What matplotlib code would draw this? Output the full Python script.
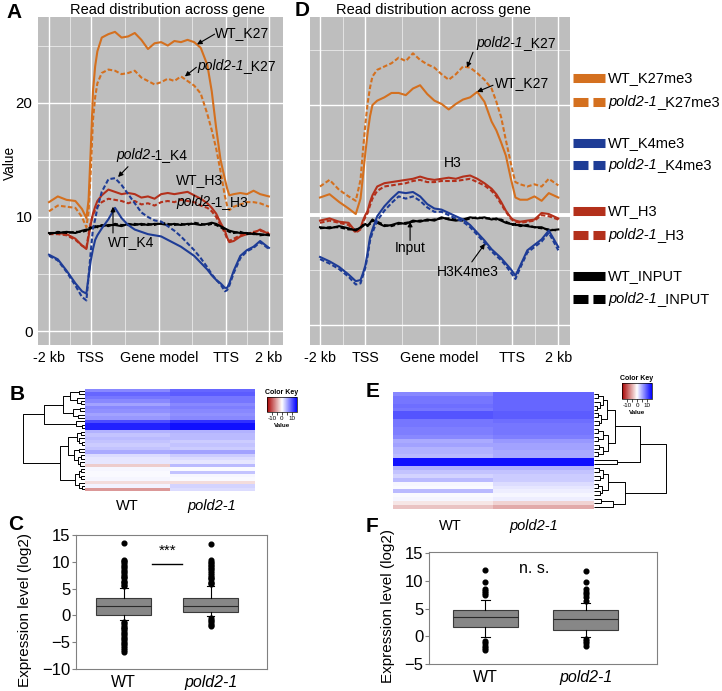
import numpy as np
import matplotlib
matplotlib.use("Agg")
import matplotlib.pyplot as plt
from matplotlib.lines import Line2D
from matplotlib.colors import LinearSegmentedColormap, Normalize
from matplotlib.colorbar import ColorbarBase
from matplotlib.offsetbox import TextArea, HPacker, AnnotationBbox

plt.rcParams['font.family'] = ['Liberation Sans', 'DejaVu Sans']

W, H = 722, 691

# ---------------- profile data (A, D) ----------------
pos = [0, 4, 8, 12, 15, 17, 18, 19, 20, 21, 22, 24, 27, 30, 33, 36, 39, 42, 45, 48,
       51, 54, 57, 60, 63, 66, 69, 72, 74, 76, 78, 80, 81, 82, 84, 87, 90, 93, 96, 100]
xtick_pos = [0, 19, 50, 80.5, 100]
xtick_lab = ['-2 kb', 'TSS', 'Gene model', 'TTS', '2 kb']

A_wt_k27 = [11.3, 11.8, 11.5, 11.4, 10.7, 9.9, 11.5, 16.0, 21.0, 23.2,
            24.5, 25.7, 26.0, 26.2, 25.7, 25.8, 26.1, 25.5, 24.7, 25.2,
            25.3, 25.0, 25.4, 25.3, 25.5, 25.3, 24.8, 23.3, 21.0, 17.8,
            15.0, 13.3, 12.5, 11.9, 12.0, 12.1, 12.0, 12.3, 12.0, 11.8]
A_mu_k27 = [10.5, 11.0, 10.9, 10.8, 10.0, 9.1, 10.5, 14.0, 18.5, 20.5,
            21.7, 22.6, 22.9, 22.8, 22.5, 22.6, 22.8, 22.2, 21.9, 21.6,
            21.8, 22.1, 21.9, 22.3, 21.9, 21.5, 20.8, 19.0, 17.6, 16.0,
            14.0, 11.8, 11.0, 10.6, 10.9, 11.1, 11.3, 11.3, 11.2, 10.9]
A_wt_h3 = [8.6, 8.6, 8.5, 8.1, 7.5, 7.2, 8.3, 9.4, 10.3, 10.9,
           11.4, 11.9, 12.4, 12.2, 12.0, 12.1, 12.0, 11.7, 11.8, 11.6,
           12.0, 12.1, 12.0, 12.1, 12.2, 11.9, 11.6, 11.2, 10.8, 10.3,
           9.5, 8.8, 8.2, 7.8, 7.9, 8.3, 8.5, 8.6, 8.9, 8.5]
A_mu_h3 = [8.5, 8.5, 8.4, 8.0, 7.5, 7.3, 8.5, 9.5, 10.2, 10.6,
           10.9, 11.3, 11.6, 11.5, 11.4, 11.2, 11.4, 11.1, 11.2, 11.0,
           11.3, 11.4, 11.3, 11.5, 11.4, 11.3, 11.0, 10.8, 10.5, 10.0,
           9.3, 8.6, 8.1, 7.9, 8.1, 8.4, 8.5, 8.7, 8.8, 8.6]
A_wt_k4 = [6.7, 6.3, 5.3, 4.2, 3.5, 3.3, 4.8, 6.2, 7.2, 8.0,
           8.4, 9.0, 9.8, 10.8, 9.9, 9.3, 8.9, 8.7, 8.5, 8.4,
           8.3, 8.0, 7.7, 7.4, 7.0, 6.6, 6.0, 5.4, 4.9, 4.5,
           4.2, 3.8, 3.8, 4.2, 5.3, 6.6, 7.1, 7.4, 7.9, 7.3]
A_mu_k4 = [6.6, 6.2, 5.2, 4.0, 3.0, 2.7, 4.8, 7.0, 9.0, 9.8,
           10.8, 12.2, 13.3, 13.4, 12.8, 12.0, 11.2, 10.4, 10.0, 9.7,
           9.6, 9.2, 8.8, 8.3, 7.7, 7.1, 6.4, 5.6, 5.0, 4.5,
           4.1, 3.5, 3.6, 4.0, 5.1, 6.4, 7.0, 7.3, 7.8, 7.2]
A_wt_in = [8.6, 8.6, 8.7, 8.6, 8.8, 8.9, 8.9, 9.0, 9.1, 9.1,
           9.2, 9.2, 9.3, 9.3, 9.2, 9.4, 9.3, 9.4, 9.3, 9.4,
           9.4, 9.3, 9.4, 9.3, 9.4, 9.4, 9.3, 9.4, 9.5, 9.4,
           9.2, 9.0, 8.9, 8.8, 8.7, 8.6, 8.6, 8.5, 8.5, 8.4]
A_mu_in = [8.5, 8.7, 8.6, 8.7, 8.7, 8.8, 9.0, 9.1, 9.0, 9.2,
           9.1, 9.3, 9.2, 9.4, 9.3, 9.3, 9.4, 9.3, 9.4, 9.3,
           9.5, 9.4, 9.3, 9.4, 9.3, 9.5, 9.4, 9.3, 9.4, 9.3,
           9.1, 8.9, 8.8, 8.7, 8.6, 8.7, 8.5, 8.6, 8.4, 8.5]

D_wt_k27 = [11.6, 11.9, 11.2, 10.6, 10.1, 11.5, 13.5, 15.6, 17.5, 19.0,
            20.0, 20.4, 20.7, 21.1, 21.1, 20.9, 21.5, 21.8, 21.0, 20.4,
            20.1, 19.6, 20.1, 20.5, 20.7, 21.2, 20.3, 18.5, 17.7, 16.6,
            15.4, 13.4, 12.5, 11.6, 11.4, 11.4, 11.7, 11.3, 12.0, 11.6]
D_mu_k27 = [12.6, 13.2, 12.3, 11.7, 11.3, 13.2, 15.8, 18.2, 20.2, 21.6,
            22.6, 23.2, 23.5, 23.8, 24.3, 24.0, 24.7, 24.1, 23.7, 23.4,
            22.8, 22.3, 22.8, 23.5, 23.4, 22.9, 22.3, 21.5, 20.3, 18.9,
            16.8, 14.8, 13.8, 13.0, 12.8, 12.6, 12.8, 12.6, 13.3, 12.7]
D_wt_h3 = [9.5, 9.7, 9.4, 9.3, 8.5, 8.8, 9.5, 10.0, 10.4, 11.2,
           11.8, 12.6, 12.9, 13.0, 13.1, 13.2, 13.3, 13.5, 13.3, 13.2,
           13.3, 13.4, 13.3, 13.5, 13.6, 13.3, 12.9, 12.4, 11.9, 11.2,
           10.4, 9.8, 9.6, 9.5, 9.4, 9.5, 9.6, 10.2, 10.1, 9.7]
D_mu_h3 = [9.3, 9.5, 9.3, 9.1, 8.4, 8.7, 9.3, 9.8, 10.2, 10.9,
           11.5, 12.2, 12.6, 12.7, 12.8, 12.9, 13.1, 13.2, 13.0, 13.0,
           13.1, 13.1, 13.1, 13.2, 13.3, 13.0, 12.7, 12.2, 11.7, 11.0,
           10.3, 9.7, 9.5, 9.4, 9.3, 9.4, 9.5, 10.0, 9.9, 9.6]
D_wt_k4 = [6.2, 5.8, 5.3, 4.6, 4.0, 4.1, 4.7, 5.4, 6.6, 8.0,
           8.7, 9.9, 10.8, 11.5, 12.1, 12.0, 12.1, 11.7, 11.0, 10.6,
           10.5, 10.2, 9.9, 9.6, 9.1, 8.4, 7.7, 6.9, 6.5, 6.1,
           5.6, 5.1, 4.8, 4.5, 5.4, 6.8, 7.3, 7.8, 8.6, 7.1]
D_mu_k4 = [6.0, 5.6, 5.1, 4.4, 3.7, 3.8, 4.5, 5.2, 6.3, 7.7,
           8.4, 9.5, 10.4, 11.1, 11.7, 11.5, 11.7, 11.3, 10.7, 10.3,
           10.3, 10.0, 9.7, 9.4, 8.9, 8.2, 7.5, 6.7, 6.3, 5.9,
           5.4, 4.8, 4.5, 4.2, 5.2, 6.6, 7.1, 7.6, 8.4, 6.8]
D_wt_in = [8.9, 8.8, 9.0, 8.8, 8.6, 8.9, 9.0, 9.2, 9.0, 9.3,
           9.6, 9.3, 9.0, 9.1, 9.3, 9.2, 9.5, 9.4, 9.6, 9.5,
           9.8, 9.6, 9.5, 9.6, 9.8, 9.7, 9.8, 9.6, 9.7, 9.5,
           9.3, 9.2, 9.2, 9.1, 9.1, 9.0, 8.9, 8.9, 8.6, 8.7]
D_mu_in = [8.8, 8.9, 8.9, 8.7, 8.7, 8.8, 9.1, 9.1, 9.1, 9.2,
           9.5, 9.4, 9.1, 9.0, 9.2, 9.3, 9.4, 9.5, 9.5, 9.6,
           9.7, 9.7, 9.6, 9.5, 9.7, 9.8, 9.7, 9.7, 9.6, 9.6,
           9.4, 9.2, 9.1, 9.2, 9.0, 9.1, 8.9, 8.8, 8.7, 8.6]

# ---------------- heatmap data (B, E) ----------------
B_wt = [7, 9, 8, 7, 5.5, 7, 6.5, 5.5, 6, 10.5, 13, 13, 4.5, 3.5, 4,
        3.5, 3, 3.5, 5, 2, 1.5, 1.5, -3, 0.5, 0.3, 0.3, 0.5, -2, 0.8, -6]
B_mu = [9, 9.5, 8, 8, 7, 7.5, 7, 6.5, 7, 12, 14, 14, 4.5, 4, 4,
        3, 3.5, 3, 5.5, 3, 2, 1.5, 4, 0.3, 3.5, 0.5, 0.3, -2, 2.5, 2]
E_wt = [7, 8, 8, 8.5, 8, 10, 10, 8, 8, 7.5, 7.5, 7, 5, 5.5, 4.5,
        4.5, 4, 14, 14, 4.5, 3.5, 2.5, 4, 0.5, 0.3, 4, 0.3, 0.5, -1.5, -3.5]
E_mu = [9, 9, 9, 9, 9, 9.5, 9.5, 8.5, 8, 8, 8, 7.5, 6, 5.5, 5.5,
        5, 5, 14, 14, 4.5, 3.5, 3, 3, 2, 1.5, 1, 0.5, 1, -2.5, -5]
# dendrograms: (height, left, right), leaves are row indices
B_tree = (10, (6.7, (3.5, (2.4, (1.0, 0, 1), (1.3, 2, (0.6, 3, 4))),
                          (1.9, (0.8, 5, 6), (1.1, 7, 8))),
                   (1.4, 9, (0.5, 10, 11))),
              (4.0, (2.7, (1.3, (0.7, 12, 13), (0.9, 14, (0.5, 15, 16))),
                          (1.8, (1.0, 17, 18), (1.1, (0.6, 19, 20), (0.8, 21, 22)))),
                    (1.6, (1.0, (0.6, 23, 24), (0.7, 25, 26)), (0.9, 27, (0.5, 28, 29)))))
E_tree = (10, (6.4, (2.9, (1.8, (1.3, (0.6, 0, 1), (0.8, 2, (0.4, 3, 4))),
                                (1.0, (0.5, 5, 6), (0.7, 7, 8))),
                          (1.9, (1.2, (0.6, 9, 10), (0.5, 11, 12)),
                                (1.3, (0.7, 13, 14), (0.6, 15, 16)))),
                   (3.2, 17, 18)),
              (4.3, (2.0, (1.3, (0.7, 19, 20), (0.9, 21, 22)),
                          (1.1, (0.6, 23, 24), (0.8, 25, 26))),
                    (2.7, (1.0, 27, 28), 29)))

# ---------------- boxplot data (C, F) ----------------
C_stats = [dict(med=1.7, q1=0.1, q3=3.2, whislo=-0.9, whishi=5.1,
                fliers=[5.4, 5.7, 6.0, 6.2, 6.5, 6.9, 7.2, 7.4, 7.8, 8.1, 8.3, 8.7, 9.0, 9.3,
                        9.6, 9.9, 10.2, 10.4, 13.6, -1.2, -1.5, -1.7, -2.1, -2.4, -2.6, -3.0,
                        -3.3, -3.5, -3.9, -4.2, -4.4, -4.8, -5.1, -5.4, -5.7, -6.1, -6.5, -6.8]),
           dict(med=1.7, q1=0.55, q3=3.3, whislo=-0.2, whishi=5.45,
                fliers=[5.8, 6.1, 6.3, 6.7, 7.0, 7.2, 7.6, 7.9, 8.2, 8.6, 8.8, 9.2, 9.4, 9.7,
                        10.0, 10.4, 13.3, -0.5, -0.8, -1.1, -1.4, -1.7, -2.0])]
F_stats = [dict(med=3.5, q1=1.6, q3=4.8, whislo=-0.2, whishi=6.5,
                fliers=[7.4, 7.8, 8.2, 8.6, 9.8, 12.0, -0.9, -1.3, -1.8, -2.1, -2.4]),
           dict(med=3.2, q1=1.2, q3=4.65, whislo=-0.1, whishi=6.0,
                fliers=[6.4, 7.1, 7.6, 8.0, 8.5, 9.8, 11.7, -0.5, -0.9, -1.3, -1.7])]
groups = ['WT', 'pold2-1']

C_K27, C_K4, C_H3, C_IN = '#D4701F', '#1E3C96', '#B3301B', '#000000'
DASH = (0, (2.2, 1.1))

fig = plt.figure(figsize=(W / 100, H / 100), dpi=100)


def px_axes(l, t, r, b):
    return fig.add_axes([l / W, 1 - b / H, (r - l) / W, (b - t) / H])


def rich(ax, x, y, parts, size, ha='left', coords='data'):
    boxes = [TextArea(s, textprops=dict(fontsize=size, style='italic' if it else 'normal'))
             for s, it in parts]
    pack = HPacker(children=boxes, align='baseline', pad=0, sep=0)
    al = {'left': 0, 'center': 0.5, 'right': 1}[ha]
    ab = AnnotationBbox(pack, (x, y), xycoords=coords, box_alignment=(al, 0.5),
                        frameon=False, pad=0, annotation_clip=False)
    ax.add_artist(ab)


def arrow(ax, x0, y0, x1, y1):
    ax.annotate('', xy=(x1, y1), xytext=(x0, y0),
                arrowprops=dict(arrowstyle='-|>', color='k', lw=0.8, mutation_scale=7,
                                shrinkA=0, shrinkB=0))


def profile(ax, series, xlim, ylim):
    ax.set_facecolor('#BEBEBE')
    ax.set_axisbelow(True)
    for y, col, dashed in series:
        ax.plot(pos, y, color=col, lw=1.5, ls=DASH if dashed else '-')
    ax.set_xlim(*xlim)
    ax.set_ylim(*ylim)
    ax.set_xticks(xtick_pos)
    ax.set_xticklabels(xtick_lab, fontsize=10.3)
    ax.set_xticks([9.5, 34.5, 65.25, 90.25], minor=True)
    ax.set_yticks([0, 10, 20])
    ax.set_yticks([5, 15, 25], minor=True)
    ax.grid(which='major', color='white', lw=1.0)
    ax.grid(which='minor', color='white', lw=0.5, alpha=0.8)
    for s in ax.spines.values():
        s.set_visible(False)
    ax.tick_params(which='both', length=0)
    ax.tick_params(axis='x', pad=4)
    ax.tick_params(axis='y', labelsize=10.8, pad=4)


# ---------------- A ----------------
axA = px_axes(38, 17, 283, 345)
profile(axA, [(A_wt_k27, C_K27, False), (A_mu_k27, C_K27, True),
              (A_wt_h3, C_H3, False), (A_mu_h3, C_H3, True),
              (A_wt_in, C_IN, False), (A_mu_in, C_IN, True),
              (A_wt_k4, C_K4, False), (A_mu_k4, C_K4, True)], (-5, 106.4), (-1.2, 27.5))
fig.text(10 / W, 1 - 163 / H, 'Value', rotation=90, fontsize=9.8, ha='center', va='center')
axA.text(75.5, 26.1, 'WT_K27', fontsize=10, va='center')
arrow(axA, 75.3, 26.0, 67.3, 25.1)
rich(axA, 67.3, 23.2, [('pold2-1', True), ('_K27', False)], 10)
arrow(axA, 67.0, 23.1, 61.8, 22.3)
rich(axA, 46.8, 15.4, [('pold2', True), ('-1_K4', False)], 10, ha='center')
arrow(axA, 35.9, 14.4, 31.4, 13.5)
axA.text(68.6, 13.2, 'WT_H3', fontsize=10, ha='center', va='center')
rich(axA, 58.0, 11.3, [('pold2', True), ('-1_H3', False)], 10)
axA.text(37.3, 7.8, 'WT_K4', fontsize=10, ha='center', va='center')
arrow(axA, 29.1, 8.6, 29.1, 10.9)

# ---------------- D ----------------
axD = px_axes(310, 17, 570, 345)
profile(axD, [(D_wt_k27, C_K27, False), (D_mu_k27, C_K27, True),
              (D_wt_h3, C_H3, False), (D_mu_h3, C_H3, True),
              (D_wt_in, C_IN, False), (D_mu_in, C_IN, True),
              (D_wt_k4, C_K4, False), (D_mu_k4, C_K4, True)], (-4.2, 104.9), (-1.8, 28))
axD.set_yticklabels([])
axD.axhline(10, color='white', lw=2.8, zorder=0.6)
rich(axD, 65.7, 25.6, [('pold2-1', True), ('_K27', False)], 10)
arrow(axD, 64.2, 24.8, 61.7, 23.4)
axD.text(73.4, 22.0, 'WT_K27', fontsize=10, va='center')
arrow(axD, 72.6, 21.8, 65.9, 21.2)
axD.text(55.8, 14.7, 'H3', fontsize=10, ha='center', va='center')
axD.text(37.8, 7.0, 'Input', fontsize=10, ha='center', va='center')
arrow(axD, 37.8, 7.7, 37.8, 9.4)
axD.text(62.1, 4.8, 'H3K4me3', fontsize=10, ha='center', va='center')
arrow(axD, 63.7, 5.75, 69.2, 7.4)

# legend for D
leg = [([('WT_K27me3', False)], C_K27, False), ([('pold2-1', True), ('_K27me3', False)], C_K27, True),
       ([('WT_K4me3', False)], C_K4, False), ([('pold2-1', True), ('_K4me3', False)], C_K4, True),
       ([('WT_H3', False)], C_H3, False), ([('pold2-1', True), ('_H3', False)], C_H3, True),
       ([('WT_INPUT', False)], C_IN, False), ([('pold2-1', True), ('_INPUT', False)], C_IN, True)]
leg_y = [78, 102, 143, 165, 211, 235, 276, 299]
for (parts, col, dashed), yy in zip(leg, leg_y):
    fig.add_artist(Line2D([573 / W, 605 / W], [1 - yy / H, 1 - yy / H], color=col, lw=6.5,
                          ls=(0, (1.66, 0.55)) if dashed else '-', solid_capstyle='butt',
                          dash_capstyle='butt'))
    rich(axD, 608 / W, 1 - yy / H, parts, 10.5, coords='figure fraction')

for title_x in (167, 433):
    fig.text(title_x / W, 1 - 10 / H, 'Read distribution across gene', fontsize=10.5,
             ha='center', va='center')

# ---------------- heatmaps ----------------
cmap = LinearSegmentedColormap.from_list('rwb', ['#A80000', '#FFFFFF', '#0000FF'])
norm = Normalize(-15, 15)


def draw_tree(ax, node):
    if isinstance(node, int):
        return node, 0.0
    h, left, right = node
    yl, hl = draw_tree(ax, left)
    yr, hr = draw_tree(ax, right)
    ax.plot([hl, h, h, hr], [yl, yl, yr, yr], color='k', lw=0.7, solid_capstyle='butt')
    return (yl + yr) / 2, h


def heatmap(hbox, dbox, kbox, wt, mu, tree, side, lab_x, pad):
    ax = px_axes(*hbox)
    ax.imshow(np.column_stack([wt, mu]), cmap=cmap, norm=norm, aspect='auto',
              interpolation='nearest')
    ax.set_yticks([])
    ax.set_xticks(lab_x)
    ax.set_xticklabels(groups, fontsize=10.5)
    ax.get_xticklabels()[1].set_style('italic')
    ax.tick_params(axis='x', length=0, pad=pad)
    for s in ax.spines.values():
        s.set_visible(False)
    axd = px_axes(*dbox)
    draw_tree(axd, tree)
    axd.set_ylim(len(wt) - 0.5, -0.5)
    axd.set_xlim((10.2, 0) if side == 'left' else (0, 10.2))
    axd.axis('off')
    cax = px_axes(*kbox)
    cb = ColorbarBase(cax, cmap=cmap, norm=norm, orientation='horizontal',
                      ticks=[-10, -5, 0, 5, 10])
    cb.set_ticklabels(['-10', '', '0', '', '10'])
    cb.outline.set_linewidth(0.5)
    cax.tick_params(labelsize=4.5, length=2, width=0.5, pad=1)
    cax.set_title('Color Key', fontsize=5, fontweight='bold', pad=2)
    cax.set_xlabel('Value', fontsize=4.5, fontweight='bold', labelpad=1)


heatmap((85, 389, 254, 491), (22, 389, 85, 491), (267, 397, 297, 412),
        B_wt, B_mu, B_tree, 'left', [0, 1], 6)
heatmap((393, 392, 594, 509), (594, 392, 667, 509), (622, 383, 652, 399),
        E_wt, E_mu, E_tree, 'right', [0.075, 0.9], 7)

# ---------------- boxplots ----------------


def boxes(box, stats, ylim, yticks, xlim, width):
    ax = px_axes(*box)
    ax.bxp(stats, positions=[1, 2], widths=width, patch_artist=True, showfliers=True,
           boxprops=dict(facecolor='#878787', edgecolor='#3A3A3A', lw=0.8),
           medianprops=dict(color='#2A2A2A', lw=0.8),
           whiskerprops=dict(color='k', lw=0.8), capprops=dict(color='k', lw=0.8),
           flierprops=dict(marker='o', markerfacecolor='k', markeredgecolor='k',
                           markersize=3.4), capwidths=0.09)
    ax.set_ylim(*ylim)
    ax.set_xlim(*xlim)
    ax.set_yticks(yticks)
    ax.tick_params(axis='y', labelsize=12, length=3, color='#808080', pad=1)
    ax.set_xticks([1, 2])
    ax.set_xticklabels(groups, fontsize=11.5)
    ax.get_xticklabels()[1].set_style('italic')
    ax.tick_params(axis='x', length=0, pad=4)
    for s in ax.spines.values():
        s.set_color('#808080')
    return ax


axC = boxes((76, 535, 267, 669), C_stats, (-10, 15), [-10, -5, 0, 5, 10, 15], (0.45, 2.65), 0.63)
axC.text(1.5, 12.0, '***', fontsize=11, ha='center', va='center')
axC.plot([1.325, 1.67], [9.5, 9.5], color='k', lw=1)
fig.text(25 / W, 1 - 610 / H, 'Expression level (log2)', rotation=90, fontsize=11,
         ha='center', va='center')

axF = boxes((429, 552, 657, 664), F_stats, (-5, 15.2), [-5, 0, 5, 10, 15], (0.44, 2.71), 0.65)
axF.text(1.485, 12.25, 'n. s.', fontsize=11.5, ha='center', va='center')
fig.text(388 / W, 1 - 606 / H, 'Expression level (log2)', rotation=90, fontsize=11,
         ha='center', va='center')

# panel letters
for lab, x, y in [('A', 6, 13), ('D', 295, 11), ('B', 10, 394), ('E', 366, 392),
                  ('C', 8, 524), ('F', 366, 527)]:
    fig.text(x / W, 1 - y / H, lab, fontsize=15, fontweight='bold', ha='left', va='center')

fig.savefig('out.png', dpi=100)
